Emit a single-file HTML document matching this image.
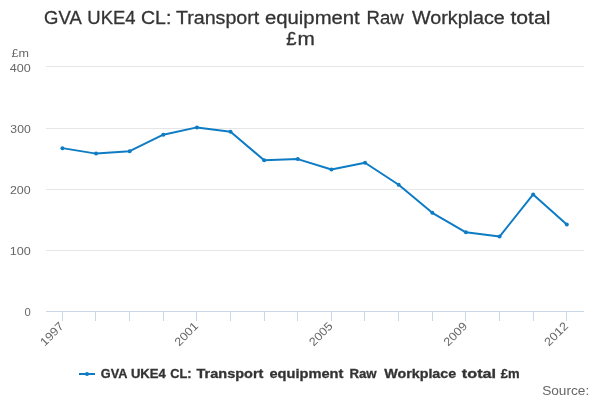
<!DOCTYPE html>
<html lang="en"><head><meta charset="utf-8"><title>GVA UKE4 CL: Transport equipment Raw Workplace total £m</title>
<style>
html,body{margin:0;padding:0;background:#ffffff;}
body{width:600px;height:400px;overflow:hidden;font-family:"Liberation Sans",sans-serif;}
svg{display:block;font-family:"Liberation Sans",sans-serif;will-change:transform;}
.t{font-size:18.9px;fill:#333333;stroke:#333333;stroke-width:0.3px;}
.ax{font-size:11.6px;fill:#666666;}
.yt{font-size:11.6px;fill:#666666;}
.lg{font-size:12.6px;font-weight:bold;fill:#333333;stroke:#333333;stroke-width:0.3px;}
.src{font-size:12.5px;fill:#666666;}
</style></head><body>
<svg width="600" height="400" viewBox="0 0 600 400">
<rect x="0" y="0" width="600" height="400" fill="#ffffff"/>
<g stroke="#e6e6e6" stroke-width="1" shape-rendering="crispEdges">
<path d="M 46 66.5 L 584 66.5"/>
<path d="M 46 128.5 L 584 128.5"/>
<path d="M 46 189.5 L 584 189.5"/>
<path d="M 46 250.5 L 584 250.5"/>
</g>
<g stroke="#ccd6eb" stroke-width="1" fill="none" shape-rendering="crispEdges">
<path d="M 46 311.5 L 584 311.5"/>
<path d="M 62.5 311 L 62.5 321"/>
<path d="M 95.5 311 L 95.5 321"/>
<path d="M 129.5 311 L 129.5 321"/>
<path d="M 163.5 311 L 163.5 321"/>
<path d="M 196.5 311 L 196.5 321"/>
<path d="M 230.5 311 L 230.5 321"/>
<path d="M 264.5 311 L 264.5 321"/>
<path d="M 297.5 311 L 297.5 321"/>
<path d="M 331.5 311 L 331.5 321"/>
<path d="M 364.5 311 L 364.5 321"/>
<path d="M 398.5 311 L 398.5 321"/>
<path d="M 432.5 311 L 432.5 321"/>
<path d="M 465.5 311 L 465.5 321"/>
<path d="M 499.5 311 L 499.5 321"/>
<path d="M 533.5 311 L 533.5 321"/>
<path d="M 566.5 311 L 566.5 321"/>
</g>
<path d="M 62.41 148.13 L 96.04 153.62 L 129.66 151.18 L 163.29 134.71 L 196.91 127.39 L 230.54 131.66 L 264.16 160.33 L 297.79 159.11 L 331.41 169.48 L 365.04 162.77 L 398.66 184.73 L 432.29 212.79 L 465.91 232.31 L 499.54 236.58 L 533.16 194.49 L 566.79 224.38" fill="none" stroke="#0d7cc4" stroke-width="2" stroke-linejoin="round" stroke-linecap="round"/>
<g fill="#0d7cc4">
<circle cx="62.41" cy="148.13" r="2"/>
<circle cx="96.04" cy="153.62" r="2"/>
<circle cx="129.66" cy="151.18" r="2"/>
<circle cx="163.29" cy="134.71" r="2"/>
<circle cx="196.91" cy="127.39" r="2"/>
<circle cx="230.54" cy="131.66" r="2"/>
<circle cx="264.16" cy="160.33" r="2"/>
<circle cx="297.79" cy="159.11" r="2"/>
<circle cx="331.41" cy="169.48" r="2"/>
<circle cx="365.04" cy="162.77" r="2"/>
<circle cx="398.66" cy="184.73" r="2"/>
<circle cx="432.29" cy="212.79" r="2"/>
<circle cx="465.91" cy="232.31" r="2"/>
<circle cx="499.54" cy="236.58" r="2"/>
<circle cx="533.16" cy="194.49" r="2"/>
<circle cx="566.79" cy="224.38" r="2"/>
</g>
<text class="t" y="24"><tspan x="44.10" textLength="36.65" lengthAdjust="spacingAndGlyphs">GVA</tspan> <tspan x="87.32" textLength="48.17" lengthAdjust="spacingAndGlyphs">UKE4</tspan> <tspan x="141.02" textLength="30.39" lengthAdjust="spacingAndGlyphs">CL:</tspan> <tspan x="175.91" textLength="83.35" lengthAdjust="spacingAndGlyphs">Transport</tspan> <tspan x="264.99" textLength="94.77" lengthAdjust="spacingAndGlyphs">equipment</tspan> <tspan x="366.52" textLength="37.13" lengthAdjust="spacingAndGlyphs">Raw</tspan> <tspan x="412.00" textLength="92.81" lengthAdjust="spacingAndGlyphs">Workplace</tspan> <tspan x="510.48" textLength="40.03" lengthAdjust="spacingAndGlyphs">total</tspan></text>
<text class="t" y="44.8"><tspan x="286.34" textLength="10.26" lengthAdjust="spacingAndGlyphs">£</tspan><tspan x="297.44" textLength="17.37" lengthAdjust="spacingAndGlyphs">m</tspan></text>
<text class="ax" y="72"><tspan x="9.75" textLength="20.96" lengthAdjust="spacingAndGlyphs">400</tspan></text>
<text class="ax" y="133"><tspan x="10.37" textLength="20.32" lengthAdjust="spacingAndGlyphs">300</tspan></text>
<text class="ax" y="194"><tspan x="9.98" textLength="20.72" lengthAdjust="spacingAndGlyphs">200</tspan></text>
<text class="ax" y="255"><tspan x="9.65" textLength="21.05" lengthAdjust="spacingAndGlyphs">100</tspan></text>
<text class="ax" y="316"><tspan x="24.41" textLength="6.25" lengthAdjust="spacingAndGlyphs">0</tspan></text>
<text class="yt" y="56.9"><tspan x="11.44" textLength="17.46" lengthAdjust="spacingAndGlyphs">£m</tspan></text>
<text class="ax" transform="translate(64.51,326.9) rotate(-45)" x="-28" y="0" textLength="28" lengthAdjust="spacingAndGlyphs">1997</text>
<text class="ax" transform="translate(199.01,326.9) rotate(-45)" x="-28" y="0" textLength="28" lengthAdjust="spacingAndGlyphs">2001</text>
<text class="ax" transform="translate(333.51,326.9) rotate(-45)" x="-28" y="0" textLength="28" lengthAdjust="spacingAndGlyphs">2005</text>
<text class="ax" transform="translate(468.01,326.9) rotate(-45)" x="-28" y="0" textLength="28" lengthAdjust="spacingAndGlyphs">2009</text>
<text class="ax" transform="translate(568.89,326.9) rotate(-45)" x="-28" y="0" textLength="28" lengthAdjust="spacingAndGlyphs">2012</text>
<path d="M 79 374 L 95 374" stroke="#0d7cc4" stroke-width="2" fill="none"/>
<circle cx="87" cy="374" r="2" fill="#0d7cc4"/>
<text class="lg" y="377.7"><tspan x="100.80" textLength="26.18" lengthAdjust="spacingAndGlyphs">GVA</tspan> <tspan x="130.91" textLength="34.90" lengthAdjust="spacingAndGlyphs">UKE4</tspan> <tspan x="170.29" textLength="21.30" lengthAdjust="spacingAndGlyphs">CL:</tspan> <tspan x="196.56" textLength="66.86" lengthAdjust="spacingAndGlyphs">Transport</tspan> <tspan x="269.49" textLength="73.93" lengthAdjust="spacingAndGlyphs">equipment</tspan> <tspan x="349.44" textLength="27.23" lengthAdjust="spacingAndGlyphs">Raw</tspan> <tspan x="384.20" textLength="72.05" lengthAdjust="spacingAndGlyphs">Workplace</tspan> <tspan x="461.84" textLength="34.26" lengthAdjust="spacingAndGlyphs">total</tspan> <tspan x="500.67" textLength="18.80" lengthAdjust="spacingAndGlyphs">£m</tspan></text>
<text class="src" y="394.7"><tspan x="542.19" textLength="47.01" lengthAdjust="spacingAndGlyphs">Source:</tspan></text>
</svg>
</body></html>
